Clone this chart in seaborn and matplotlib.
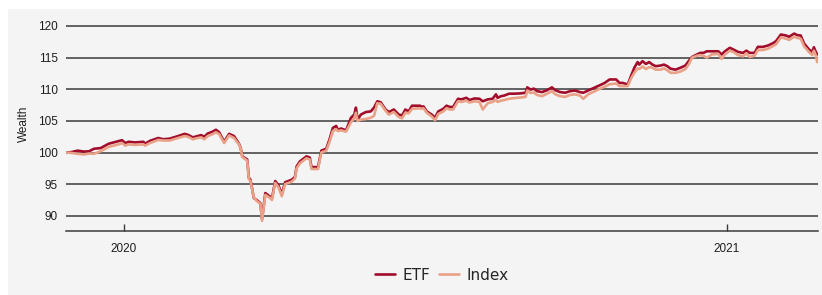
import matplotlib
matplotlib.use("Agg")
import matplotlib.pyplot as plt
import matplotlib.dates as mdates
from matplotlib.patches import Rectangle
import pandas as pd
import seaborn as sns

# days after 2020-01-01
day_offsets = [
    -35, -32, -28, -24, -21, -18, -14, -9, -3, -1, 1, 3, 7, 12, 13, 16, 21, 24, 28,
    33, 37, 39, 42, 45, 47, 49, 51, 54, 56, 58, 61, 64, 67, 69, 70, 71, 72, 75, 76,
    77, 79, 81, 83, 84, 86, 89, 90, 92, 94,
    96, 98, 102, 104, 105, 107, 111, 113, 114, 118, 120, 123, 125, 127, 129, 130,
    132, 135, 138, 140, 141, 142, 144, 147, 150, 152, 154, 156, 159, 161,
    164, 167, 169, 171, 173, 175, 180, 181, 182, 184, 187, 189, 191, 194, 196, 198,
    200, 203, 205, 208, 210, 213, 216, 218, 221, 224, 226,
    227, 229, 231, 234, 237, 241, 244, 245, 247, 249, 251, 254, 257, 260, 262, 265,
    268, 271, 274, 277, 279, 282, 286, 290, 292,
    295, 299, 301, 303, 306, 308, 310, 312, 313, 315, 317, 319, 321, 323, 326, 328,
    330, 332, 335, 338, 341, 343, 345, 348, 350, 352, 354, 357,
    361, 363, 365, 368, 370, 373, 376, 378, 380, 383, 385, 388, 391, 394, 396, 399,
    402, 404, 407, 409, 411, 413, 416, 418, 419, 420, 421,
]

etf = [
    100.0, 100.05, 100.3, 100.15, 100.2, 100.6, 100.7, 101.4, 101.8, 101.95, 101.5,
    101.7, 101.6, 101.7, 101.4, 101.85, 102.3, 102.1, 102.2,
    102.6, 102.95, 102.8, 102.4, 102.6, 102.75, 102.5, 103.0, 103.3, 103.6, 103.2,
    101.7, 102.95, 102.6, 101.8, 101.4, 100.75, 99.4, 98.9, 96.0,
    95.7, 92.8, 92.45, 92.0, 89.5, 93.6, 93.0, 92.7, 95.5, 94.8,
    93.4, 95.3, 95.7, 96.15, 97.8, 98.6, 99.4, 99.2, 97.7, 97.7, 100.3, 100.6, 102.1,
    103.9, 104.2, 103.6,
    103.8, 103.5, 105.5, 106.0, 107.1, 105.2, 106.0, 106.4, 106.5, 107.1, 108.1,
    107.95, 106.8, 106.4,
    106.8, 106.0, 105.85, 106.8, 106.5, 107.4, 107.4, 107.2, 107.3, 106.5, 106.0,
    105.5, 106.5, 106.9, 107.4, 107.2,
    107.2, 108.5, 108.4, 108.65, 108.3, 108.55, 108.5, 108.1, 108.4, 108.5, 109.2,
    108.65, 108.9, 109.0, 109.3, 109.3, 109.35, 109.45, 110.3, 109.95, 110.1, 109.7,
    109.55, 109.85, 110.3, 109.85, 109.55,
    109.45, 109.7, 109.8, 109.55, 109.45, 109.8, 110.25, 110.75, 111.0,
    111.55, 111.55, 111.0, 111.0, 110.75, 112.1, 113.4, 114.3, 113.9, 114.45, 114.0,
    114.3, 113.9, 113.65, 113.75, 113.9,
    113.65, 113.25, 113.1, 113.4, 113.75, 114.45, 115.1, 115.5, 115.75, 115.75,
    116.0, 116.0,
    116.0, 115.5, 116.0, 116.55, 116.3, 115.9, 115.75, 116.1, 115.75, 115.75, 116.7,
    116.7, 116.9, 117.25, 117.6, 118.65,
    118.5, 118.3, 118.8, 118.55, 118.5, 117.25, 116.3, 115.9, 116.65, 116.0, 115.5,
]

index = [
    100.0, 99.95, 99.8, 99.7, 99.85, 99.8, 100.2, 100.9, 101.3, 101.5, 101.1,
    101.3, 101.2, 101.3, 101.1, 101.5, 102.0, 101.9, 101.9,
    102.3, 102.6, 102.5, 102.1, 102.3, 102.4, 102.1, 102.6, 102.9, 103.2, 102.9,
    101.5, 102.7, 102.3, 101.6, 101.3, 100.7, 99.3, 98.7, 95.8,
    95.5, 92.9, 92.3, 91.9, 89.2, 93.3, 92.8, 92.5, 95.2, 94.5,
    93.1, 95.0, 95.4, 95.9, 97.5, 98.3, 99.1, 98.9, 97.4, 97.4, 100.0, 100.3, 101.7,
    103.4, 103.7, 103.4,
    103.5, 103.3, 104.8, 105.4, 106.3, 105.0, 105.2, 105.3, 105.5, 105.8, 107.8,
    107.7, 106.6, 106.0,
    106.4, 105.6, 105.4, 106.3, 106.2, 106.9, 107.0, 106.9, 107.0, 106.3, 105.7,
    105.1, 106.1, 106.5, 107.0, 106.8,
    106.8, 108.1, 108.0, 108.2, 107.9, 108.1, 108.0, 106.8, 107.8, 108.0, 108.3,
    108.0, 108.2, 108.3, 108.5, 108.6, 108.7, 108.8, 109.8, 109.4, 109.5, 109.1,
    108.9, 109.3, 109.7, 109.2, 108.9,
    108.8, 109.1, 109.2, 109.0, 108.5, 109.2, 109.7, 110.2, 110.4,
    110.8, 110.9, 110.5, 110.5, 110.5, 111.7, 112.6, 113.3, 113.2, 113.6, 113.2,
    113.5, 113.4, 113.1, 113.1, 113.3,
    113.0, 112.6, 112.6, 112.8, 113.2, 113.9, 115.0, 115.3, 115.4, 115.3,
    115.0, 115.5,
    115.6, 114.8, 115.5, 116.1, 115.9, 115.4, 115.2, 115.7, 115.1, 115.3, 116.2,
    116.2, 116.4, 116.8, 117.1, 118.2,
    118.0, 117.8, 118.3, 118.1, 118.0, 116.8, 115.9, 115.4, 116.1, 115.5, 114.3,
]

series_names = ["ETF", "Index"]
series_colors = {"ETF": "#a10d2b", "Index": "#e9a187"}

dates = pd.Timestamp("2020-01-01") + pd.to_timedelta(day_offsets, unit="D")
df = pd.concat(
    [
        pd.DataFrame({"date": dates, "wealth": etf, "series": "ETF"}),
        pd.DataFrame({"date": dates, "wealth": index, "series": "Index"}),
    ],
    ignore_index=True,
)

sns.set_theme(style="white")
plt.rcParams["font.family"] = ["Liberation Sans", "DejaVu Sans"]

bg = "#f4f4f4"
grid_col = "#3a3a3a"

fig = plt.figure(figsize=(8.22, 2.95), dpi=100, facecolor="white")
fig.patches.append(
    Rectangle((8 / 822, 0), 1, 1 - 9 / 295, transform=fig.transFigure,
              facecolor=bg, edgecolor="none", zorder=-10)
)
ax = fig.add_axes([66 / 822, 1 - 231 / 295, (818 - 66) / 822, (231 - 16.5) / 295])
ax.set_facecolor(bg)

sns.lineplot(
    data=df, x="date", y="wealth", hue="series", hue_order=series_names,
    palette=series_colors, linewidth=1.9, ax=ax, legend=True,
)

ax.set_ylim(87.6, 121.5)
ax.set_xlim(dates[0], dates[-1] + pd.Timedelta(days=0.5))
ax.set_yticks([90, 95, 100, 105, 110, 115, 120])
ax.yaxis.grid(True, color=grid_col, linewidth=1.1)
ax.set_axisbelow(True)
for side in ["top", "right", "left"]:
    ax.spines[side].set_visible(False)
ax.spines["bottom"].set_color(grid_col)
ax.spines["bottom"].set_linewidth(1.1)

ax.xaxis.set_major_locator(mdates.YearLocator())
ax.xaxis.set_major_formatter(mdates.DateFormatter("%Y"))
ax.tick_params(axis="x", bottom=True, direction="in", length=5, width=1,
               color=grid_col, labelsize=8.5, pad=9, labelcolor="#1e1e1e")
ax.tick_params(axis="y", left=False, length=0, labelsize=8.5, pad=6,
               labelcolor="#1e1e1e")
ax.set_xlabel("")
ax.set_ylabel("Wealth", fontsize=8.5, color="#1e1e1e", labelpad=6)

handles, labels = ax.get_legend_handles_labels()
ax.legend_.remove()
fig.legend(
    handles, labels, loc="center", bbox_to_anchor=(442 / 822, 1 - 275 / 295),
    ncol=2, frameon=False, handlelength=1.3, handletextpad=0.5, columnspacing=0.6,
    prop={"family": "DejaVu Sans", "size": 11},
)

fig.savefig("out.png", dpi=100, facecolor="white")
